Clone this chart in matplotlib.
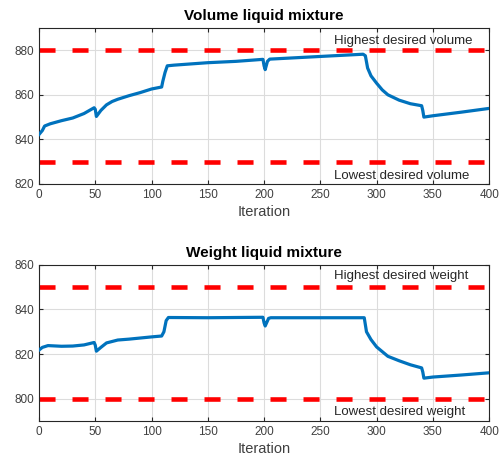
import matplotlib
matplotlib.use("Agg")
import matplotlib.pyplot as plt

plt.rcParams["font.family"] = ["Liberation Sans", "DejaVu Sans"]

# volume of the liquid mixture per iteration
vol_iter = [0, 3, 5, 10, 20, 30, 40, 49, 50, 51, 55, 60, 65, 70, 80, 90, 100, 109,
            110, 112, 114, 120, 150, 175, 199, 200, 201, 203, 205, 250, 288, 290,
            292, 295, 300, 305, 310, 320, 330, 340, 341, 342, 350, 375, 400]
vol_vals = [842.2, 844.0, 846.0, 847.0, 848.4, 849.6, 851.6, 854.2, 853.5, 850.3,
            853.0, 855.5, 857.0, 858.0, 859.6, 861.0, 862.6, 863.5,
            866.0, 870.0, 873.0, 873.3, 874.4, 875.0, 875.9, 873.0, 871.3, 875.0,
            876.0, 877.2, 878.2, 877.5, 872.0, 868.5, 865.2, 862.2, 860.0, 857.6,
            856.0, 855.1, 853.0, 850.0, 850.6, 852.2, 853.9]

# weight of the liquid mixture per iteration
wt_iter = [0, 3, 8, 20, 30, 40, 49, 50, 51, 55, 60, 70, 80, 90, 100, 109, 111, 113,
           115, 150, 199, 200, 201, 204, 206, 250, 289, 291, 295, 300, 310, 320, 330,
           340, 341, 342, 350, 375, 400]
wt_vals = [821.8, 823.0, 823.8, 823.5, 823.6, 824.1, 825.2, 824.0, 821.3, 823.0,
           825.0, 826.3, 826.7, 827.2, 827.7, 828.1, 830.0, 835.0,
           836.4, 836.3, 836.5, 834.0, 832.6, 836.0, 836.3, 836.3, 836.3, 830.0,
           826.5, 823.2, 819.0, 817.0, 815.2, 813.8, 812.0, 809.2, 809.7, 810.6, 811.6]

vol_limits = (880, 830)
wt_limits = (850, 800)

panels = [
    ("Volume liquid mixture", vol_iter, vol_vals, vol_limits, (820, 890),
     [820, 840, 860, 880], "Highest desired volume", "Lowest desired volume", (884, 823.5)),
    ("Weight liquid mixture", wt_iter, wt_vals, wt_limits, (790, 860),
     [800, 820, 840, 860], "Highest desired weight", "Lowest desired weight", (855, 793.8)),
]

fig = plt.figure(figsize=(5.03, 4.73), dpi=100)
rects = [[0.0775, 0.611, 0.895, 0.330], [0.0775, 0.110, 0.895, 0.330]]

for rect, (title, x, y, lims, ylim, yt, hi_txt, lo_txt, txt_y) in zip(rects, panels):
    ax = fig.add_axes(rect)
    ax.plot(x, y, color="#0072BD", lw=2.3, zorder=3)
    for lv in lims:
        ax.axhline(lv, color="#FF0000", lw=3.3, dashes=(3.5, 3.7), zorder=2)
    ax.text(262, txt_y[0], hi_txt, fontsize=9.5, color="#262626", va="center")
    ax.text(262, txt_y[1], lo_txt, fontsize=9.5, color="#262626", va="center")
    ax.set_xlim(0, 400)
    ax.set_ylim(*ylim)
    ax.set_xticks(range(0, 401, 50))
    ax.set_yticks(yt)
    ax.grid(True, color="#DCDCDC", lw=0.8)
    ax.set_axisbelow(True)
    ax.tick_params(direction="in", top=True, right=True, labelsize=8.5,
                   labelcolor="#404040", length=3, color="#262626")
    for s in ax.spines.values():
        s.set_color("#262626")
        s.set_linewidth(0.8)
    ax.set_xlabel("Iteration", fontsize=10.5, color="#404040", labelpad=3)
    ax.set_title(title, fontsize=11, fontweight="bold", pad=6)

fig.savefig("out.png", dpi=100)
